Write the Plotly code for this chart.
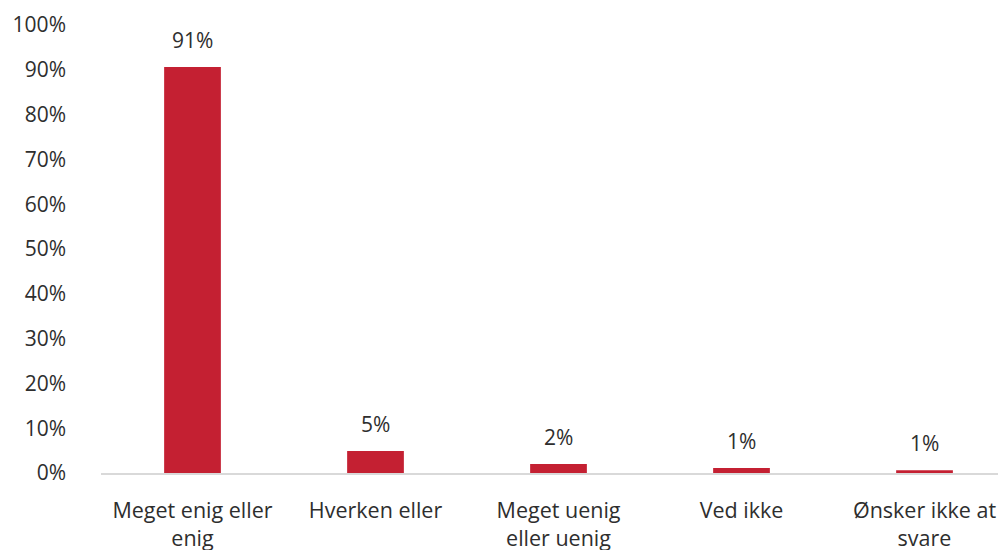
import plotly.graph_objects as go

# Survey answers (share of respondents)
categories = ["Meget enig eller<br>enig", "Hverken eller", "Meget uenig<br>eller uenig",
              "Ved ikke", "Ønsker ikke at<br>svare"]
shares = [90.6, 4.9, 2.0, 1.1, 0.6]
share_labels = ["91%", "5%", "2%", "1%", "1%"]

bar_color = "#C42032"
text_color = "#2e2e2e"
font_family = "'Open Sans', Lato, sans-serif"

fig = go.Figure()
fig.add_trace(go.Bar(x=list(range(len(categories))), y=shares, marker_color=bar_color,
                     marker_line_width=0, hoverinfo="skip"))

# value labels floating above each bar
for i, (v, lbl) in enumerate(zip(shares, share_labels)):
    fig.add_annotation(x=i, y=v, text=lbl, showarrow=False, yanchor="bottom", yshift=11,
                       font=dict(size=21, color=text_color, family=font_family))

# the page body adds an 8px offset, margins are reduced to compensate
fig.update_layout(
    width=1006, height=550,
    margin=dict(l=93, r=0, t=17, b=85),
    plot_bgcolor="white", paper_bgcolor="white",
    bargap=0.69,
    showlegend=False,
    font=dict(family=font_family, size=21, color=text_color),
)
fig.update_xaxes(tickmode="array", tickvals=list(range(len(categories))), ticktext=categories,
                 range=[-0.5, 4.489], showline=True, linecolor="#d9d9d9", linewidth=2,
                 showgrid=False, ticks="", ticklabelstandoff=17, zeroline=False,
                 automargin=False, tickfont=dict(size=21.5))
fig.update_yaxes(range=[0, 100], dtick=10, ticksuffix="%", showgrid=False, zeroline=False,
                 showline=False, ticks="", ticklabelstandoff=34, automargin=False)

fig.write_html("out.html")
